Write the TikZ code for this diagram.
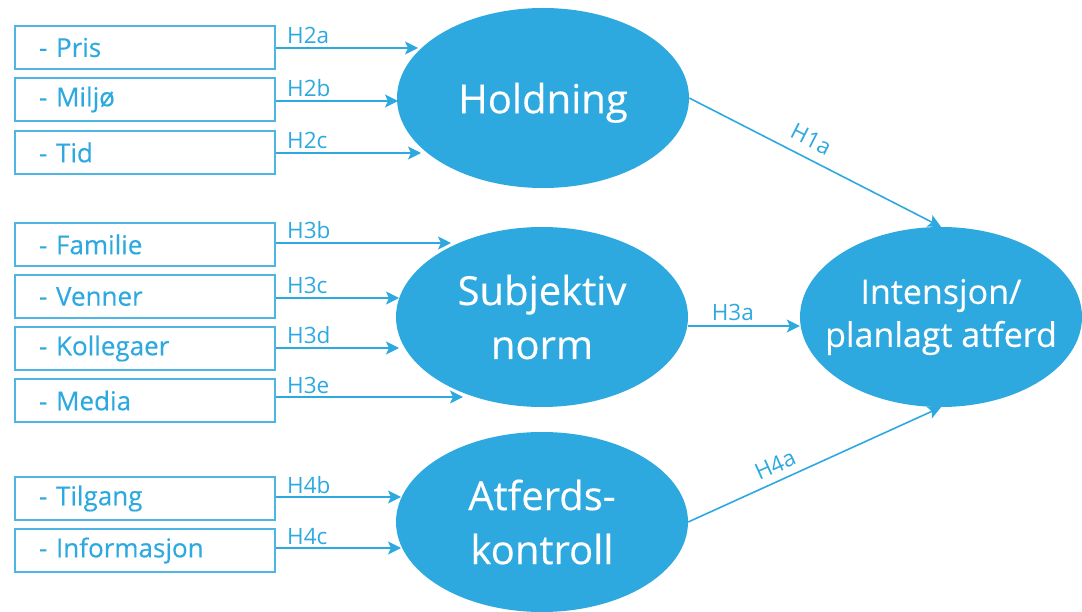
\documentclass[tikz,border=0pt]{standalone}
\usepackage{fontspec}
\setmainfont{Open Sans}
\newfontfamily\semi{Open Sans}[FakeBold=0.35]
\usetikzlibrary{arrows.meta,shapes.geometric}
\definecolor{sky}{HTML}{2EA9E0}
\tikzset{
  item/.style={draw=sky!85!white, line width=2pt, minimum width=260pt, minimum height=43pt,
    inner xsep=24pt, inner ysep=0pt, text width=212pt, align=left, text=sky,
    font=\semi\fontsize{26}{30}\selectfont, anchor=north west},
  blob/.style={ellipse, fill=sky, text=white, inner sep=0pt, align=center},
  big/.style={blob, minimum width=292pt, minimum height=180pt, font=\semi\fontsize{40}{54}\selectfont},
  hlab/.style={text=sky, font=\fontsize{22.5}{24}\selectfont, inner sep=1pt},
  link/.style={draw=sky, line width=1.6pt, -{Stealth[length=13pt,width=13pt,inset=3pt]}},
}
\begin{document}
\begin{tikzpicture}[x=1pt,y=-1pt]
\useasboundingbox (0,0) rectangle (1082,612);

% ellipses
\node[big, text depth=0pt] (hold) at (543,98) {Holdning};
\node[big] (subj) at (542,317) {Subjektiv\\norm};
\node[big] (atf) at (542,522) {Atferds-\\kontroll};
\node[blob, minimum width=282pt, minimum height=180pt,
  label={[text=white, align=center, inner sep=0pt, font=\semi\fontsize{34}{43}\selectfont]center:Intensjon/\\planlagt atferd}] (int) at (941,317) {};

% boxes
\node[item] (pris) at (14,25) {- Pris};
\node[item] (milj) at (14,77) {- Miljø};
\node[item] (tid) at (14,130) {- Tid};
\node[item] (fam) at (14,222) {- Familie};
\node[item] (ven) at (14,274) {- Venner};
\node[item] (kol) at (14,326) {- Kollegaer};
\node[item] (med) at (14,378) {- Media};
\node[item] (til) at (14,476) {- Tilgang};
\node[item] (inf) at (14,528) {- Informasjon};

% arrow tip targets
\coordinate (tpris) at (418,48);
\coordinate (tmilj) at (398,101);
\coordinate (ttid) at (421,153);
\coordinate (tfam) at (451,243);
\coordinate (tven) at (399,298);
\coordinate (tkol) at (399,348);
\coordinate (tmed) at (463,397);
\coordinate (ttil) at (401,497);
\coordinate (tinf) at (401,548);

\foreach \b/\l in {pris/H2a, milj/H2b, tid/H2c, fam/H3b, ven/H3c, kol/H3d, med/H3e, til/H4b, inf/H4c}{
  \draw[link] (\b.east |- t\b) -- (t\b);
  \node[hlab, anchor=base west] at ([xshift=10pt,yshift=4pt]\b.east |- t\b) {\l};
}

% to intention
\draw[link] (hold.east) -- node[hlab, pos=0.45, above=9pt, sloped] {H1a} (int.north);
\draw[link] ([yshift=-9pt]subj.east) -- node[hlab, pos=0.4, above=3pt] {H3a} ([yshift=-9pt]int.west);
\draw[link] (atf.east) -- node[hlab, pos=0.37, above=6pt, sloped] {H4a} (int.south);
\end{tikzpicture}
\end{document}
